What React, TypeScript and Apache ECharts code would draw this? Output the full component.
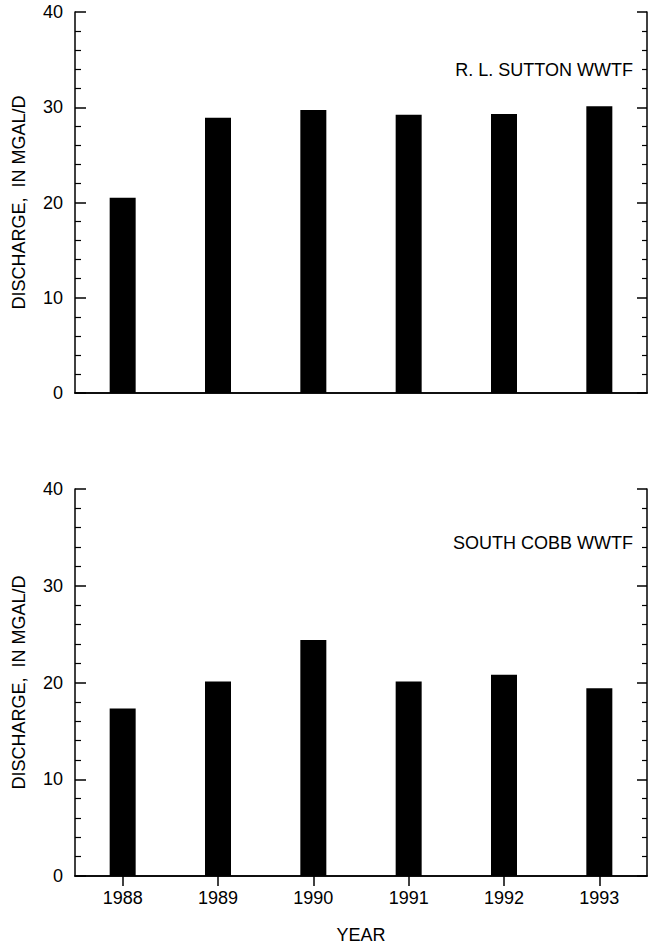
import React, { useEffect, useRef } from "react";
import * as echarts from "echarts";

const years = ["1988", "1989", "1990", "1991", "1992", "1993"];
const suttonDischarge = [20.5, 28.9, 29.7, 29.2, 29.3, 30.1];
const southCobbDischarge = [17.3, 20.1, 24.4, 20.1, 20.8, 19.4];
const yTicks = { min: 0, max: 40, interval: 10 };
const yAxisTitle = "DISCHARGE,  IN MGAL/D";
const xAxisTitle = "YEAR";
const panelLabels = ["R. L. SUTTON WWTF", "SOUTH COBB WWTF"];

const FONT = '"Liberation Sans", Arial, Helvetica, sans-serif';
const BLACK = "#000";

export default function App() {
  const ref = useRef<HTMLDivElement>(null);
  useEffect(() => {
    if (!ref.current) return;
    const chart = echarts.init(ref.current, undefined, { renderer: "svg" });
    const line = { show: true, lineStyle: { color: BLACK, width: 1.5 } };
    const grids = [
      { left: 75, top: 12, width: 572, height: 381 },
      { left: 75, top: 489, width: 572, height: 388 },
    ];
    const leftY = (gi: number) => ({
      gridIndex: gi,
      type: "value",
      position: "left",
      min: yTicks.min,
      max: yTicks.max,
      interval: yTicks.interval,
      axisLine: line,
      axisTick: { show: true, inside: true, length: 11, lineStyle: { color: BLACK, width: 1.5 } },
      minorTick: { show: true, splitNumber: 5, length: 6, lineStyle: { color: BLACK, width: 1.2 } },
      splitLine: { show: false },
      axisLabel: { color: BLACK, fontSize: 18, fontFamily: FONT, margin: 12 },
      name: yAxisTitle,
      nameLocation: "middle",
      nameGap: 47,
      nameTextStyle: { color: BLACK, fontSize: 18, fontFamily: FONT },
    });
    const rightY = (gi: number) => ({
      gridIndex: gi,
      type: "value",
      position: "right",
      min: yTicks.min,
      max: yTicks.max,
      interval: yTicks.interval,
      axisLine: line,
      axisTick: { show: true, inside: true, length: 10, lineStyle: { color: BLACK, width: 1.5 } },
      minorTick: { show: true, splitNumber: 5, length: 5, lineStyle: { color: BLACK, width: 1.2 } },
      splitLine: { show: false },
      axisLabel: { show: false },
    });
    const option: any = {
      animation: false,
      backgroundColor: "#fff",
      grid: grids,
      xAxis: [
        {
          gridIndex: 0, type: "category", data: years, position: "bottom",
          axisLine: line, axisTick: { show: false }, axisLabel: { show: false },
        },
        {
          gridIndex: 0, type: "category", data: years, position: "top",
          axisLine: line, axisTick: { show: false }, axisLabel: { show: false },
        },
        {
          gridIndex: 1, type: "category", data: years, position: "bottom",
          axisLine: line, axisTick: { show: false },
          axisLabel: { color: BLACK, fontSize: 18, fontFamily: FONT, margin: 13, interval: 0 },
          name: xAxisTitle, nameLocation: "middle", nameGap: 50,
          nameTextStyle: { color: BLACK, fontSize: 18, fontFamily: FONT },
        },
        {
          gridIndex: 1, type: "category", data: years, position: "top",
          axisLine: line,
          axisTick: { show: true, inside: true, alignWithLabel: true, length: 10, lineStyle: { color: BLACK, width: 1.5 } },
          axisLabel: { show: false },
        },
      ],
      yAxis: [leftY(0), rightY(0), leftY(1), rightY(1)],
      series: [
        {
          type: "bar", xAxisIndex: 0, yAxisIndex: 0, data: suttonDischarge,
          barWidth: 26, itemStyle: { color: BLACK },
        },
        {
          type: "bar", xAxisIndex: 2, yAxisIndex: 2, data: southCobbDischarge,
          barWidth: 26, itemStyle: { color: BLACK },
        },
      ],
      graphic: [
        {
          type: "text", x: 633, y: 70,
          style: { text: panelLabels[0], fill: BLACK, font: `18px ${FONT}`, align: "right", verticalAlign: "middle", textAlign: "right", textVerticalAlign: "middle" },
        },
        {
          type: "text", x: 633, y: 543,
          style: { text: panelLabels[1], fill: BLACK, font: `18px ${FONT}`, align: "right", verticalAlign: "middle", textAlign: "right", textVerticalAlign: "middle" },
        },
      ],
    };
    chart.setOption(option);
    return () => chart.dispose();
  }, []);
  return (
    <div
      ref={ref}
      style={{ position: "absolute", left: 0, top: 0, width: 648, height: 945, background: "#fff" }}
    />
  );
}
